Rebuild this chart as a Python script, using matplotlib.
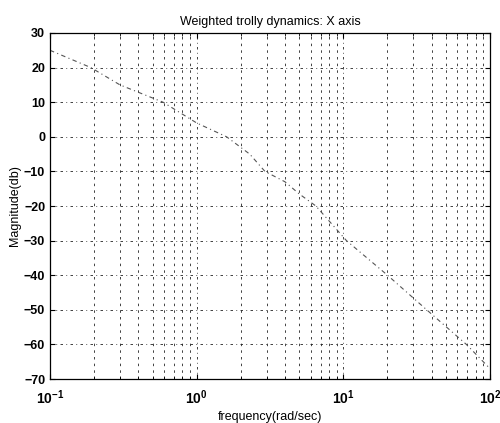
import numpy as np
import matplotlib
matplotlib.use('Agg')
import matplotlib.pyplot as plt
from matplotlib.ticker import LogLocator, NullFormatter

plt.rcParams['font.family'] = ['Liberation Sans', 'DejaVu Sans']

# values
freq = [0.1, 0.19, 0.3, 0.59, 1.0, 1.6, 2.3, 2.92, 4.0, 5.0, 6.5, 10.5, 20, 37, 69, 100]
mag = [25, 20, 15, 10, 4, 0, -5, -10, -13, -16.5, -20, -30, -40, -50, -60, -67]
yticks = [-70, -60, -50, -40, -30, -20, -10, 0, 10, 20, 30]

fig = plt.figure(figsize=(5.0, 4.23), dpi=100)
ax = fig.add_axes([0.1, 0.104, 0.88, 0.818])

ax.semilogx(freq, mag, color='#555555', lw=0.8, linestyle=(0, (4, 3, 1, 3)))

ax.set_xlim(0.1, 100)
ax.set_ylim(-70, 30)
ax.set_yticks(yticks)
ax.xaxis.set_major_locator(LogLocator(base=10))
ax.xaxis.set_minor_locator(LogLocator(base=10, subs=np.arange(2, 10)))
ax.xaxis.set_minor_formatter(NullFormatter())

ax.grid(True, which='major', color='#222222', lw=0.6, linestyle=(0, (3, 4, 1, 4)))
ax.grid(True, which='minor', axis='x', color='#222222', lw=0.6, linestyle=(0, (3, 5)))

ax.tick_params(which='both', direction='in', top=True, right=True)
ax.tick_params(axis='y', labelsize=9)
ax.tick_params(axis='x', labelsize=10, pad=7)
ax.tick_params(which='minor', length=2)
for s in ax.spines.values():
    s.set_linewidth(0.9)

ax.set_title('Weighted trolly dynamics: X axis', fontsize=9, pad=6)
ax.set_xlabel('frequency(rad/sec)', fontsize=9, labelpad=3)
ax.set_ylabel('Magnitude(db)', fontsize=9, labelpad=2)
for lab in ax.get_xticklabels() + ax.get_yticklabels():
    lab.set_fontweight('bold')

fig.savefig('out.png', dpi=100)
